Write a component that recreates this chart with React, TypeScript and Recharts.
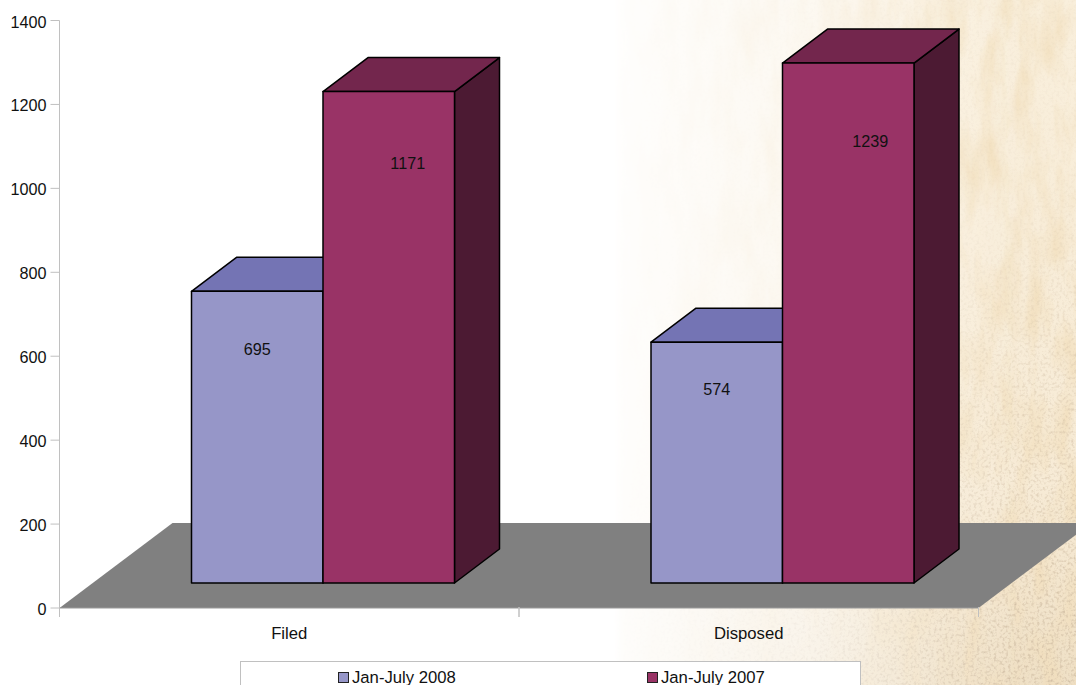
import { BarChart, Bar, XAxis, YAxis, Legend, LabelList, usePlotArea } from "recharts"

const categories = ["Filed", "Disposed"]
const values2008 = [695, 574]
const values2007 = [1171, 1239]
const yTicks = [0, 200, 400, 600, 800, 1000, 1200, 1400]

const chartData = categories.map((name, i) => ({
  name,
  "Jan-July 2008": values2008[i],
  "Jan-July 2007": values2007[i],
}))

const WIDTH = 1076
const HEIGHT = 685
const FONT = '"Liberation Sans", Arial, sans-serif'
const TEXT_SIZE = 16.2
const WIDE_TEXT_SIZE = 16.7

// the boxes sit mid-way on the floor, their depth runs up and to the right
const FRONT_DX = 34
const FRONT_DY = -25
const DEPTH_DX = 45
const DEPTH_DY = -34
const FLOOR_DX = 113
const FLOOR_DY = -85

// where each value label sits relative to the front face's top centre
const labels2008 = [
  { dx: 0, dy: 59 },
  { dx: 0, dy: 48 },
]
const labels2007 = [
  { dx: 19, dy: 72 },
  { dx: 22, dy: 79 },
]

function Floor() {
  const plot = usePlotArea()
  if (!plot) return null
  const left = plot.x
  const right = plot.x + plot.width
  const base = plot.y + plot.height
  const pts = [
    [left, base],
    [left + FLOOR_DX, base + FLOOR_DY],
    [right + FLOOR_DX, base + FLOOR_DY],
    [right, base],
  ]
  return (
    <g>
      <polygon points={pts.map((p) => p.join(",")).join(" ")} fill="#808080" />
      <line x1={left} y1={base} x2={right} y2={base} stroke="#9a9a9a" strokeWidth={1} />
    </g>
  )
}

function Box3D(props: any) {
  const { x, y, width, height, fill, topFill, sideFill } = props
  const fx = x + FRONT_DX
  const fy = y + FRONT_DY
  const fr = fx + width
  const fb = fy + height
  const top = `${fx},${fy} ${fx + DEPTH_DX},${fy + DEPTH_DY} ${fr + DEPTH_DX},${fy + DEPTH_DY} ${fr},${fy}`
  const side = `${fr},${fy} ${fr + DEPTH_DX},${fy + DEPTH_DY} ${fr + DEPTH_DX},${fb + DEPTH_DY} ${fr},${fb}`
  const edge = { stroke: "#000", strokeWidth: 1.5, strokeLinejoin: "round" as const }
  return (
    <g>
      <polygon points={side} fill={sideFill} {...edge} />
      <polygon points={top} fill={topFill} {...edge} />
      <rect x={fx} y={fy} width={width} height={height} fill={fill} {...edge} />
    </g>
  )
}

function valueLabel(nudges: { dx: number; dy: number }[]) {
  return (props: any) => {
    const { x, y, width, value, index } = props
    const n = nudges[index]
    return (
      <text
        x={x + FRONT_DX + width / 2 + n.dx}
        y={y + FRONT_DY + n.dy}
        dy={5}
        textAnchor="middle"
        fontFamily={FONT}
        fontSize={TEXT_SIZE}
        fill="#111"
      >
        {value}
      </text>
    )
  }
}

function CategoryTick(props: any) {
  const { x, y, payload, band } = props
  return (
    <g>
      <line x1={x - band / 2} y1={y - 9} x2={x - band / 2} y2={y + 1} stroke="#c0c0c0" />
      <line x1={x + band / 2} y1={y - 9} x2={x + band / 2} y2={y + 1} stroke="#c0c0c0" />
      <text x={x} y={y + 23} textAnchor="middle" fontFamily={FONT} fontSize={WIDE_TEXT_SIZE} fill="#111">
        {payload.value}
      </text>
    </g>
  )
}

function ValueTick(props: any) {
  const { x, y, payload } = props
  return (
    <text x={x} y={y + 7} textAnchor="end" fontFamily={FONT} fontSize={TEXT_SIZE} fill="#111">
      {payload.value}
    </text>
  )
}

function LegendBox({ payload }: any) {
  const starts = [338, 647]
  const ordered = [...(payload ?? [])].sort((a: any, b: any) => b.value.localeCompare(a.value))
  return (
    <div
      style={{
        position: "absolute",
        left: 240,
        top: 661,
        width: 621,
        height: 50,
        boxSizing: "border-box",
        background: "#fff",
        border: "1px solid #c0c0c0",
        fontFamily: FONT,
        fontSize: WIDE_TEXT_SIZE,
        color: "#111",
      }}
    >
      {ordered.map((entry: any, i: number) => (
        <div
          key={entry.value}
          style={{ position: "absolute", left: starts[i] - 241, top: 7, display: "flex", alignItems: "center", lineHeight: "18px" }}
        >
          <span
            style={{
              width: 9,
              height: 9,
              marginRight: 3,
              marginTop: -2,
              background: entry.color,
              border: "1px solid #222",
              display: "inline-block",
            }}
          />
          {entry.value}
        </div>
      ))}
    </div>
  )
}

// aged paper fading in from the white left side
function Paper() {
  return (
    <svg width={WIDTH} height={HEIGHT} style={{ position: "absolute", left: 0, top: 0 }}>
      <defs>
        <linearGradient id="fade" x1="0" y1="0" x2="1" y2="0">
          <stop offset="0.57" stopColor="#fff" stopOpacity={0} />
          <stop offset="0.58" stopColor="#fff" stopOpacity={0.08} />
          <stop offset="0.75" stopColor="#fff" stopOpacity={0.38} />
          <stop offset="0.88" stopColor="#fff" stopOpacity={0.85} />
          <stop offset="0.95" stopColor="#fff" stopOpacity={1} />
        </linearGradient>
        <mask id="fadeMask">
          <rect width={WIDTH} height={HEIGHT} fill="url(#fade)" />
        </mask>
        <linearGradient id="tone" x1="0" y1="0" x2="0" y2="1">
          <stop offset="0" stopColor="#f9efdc" />
          <stop offset="0.7" stopColor="#f7ebd6" />
          <stop offset="1" stopColor="#efe0c6" />
        </linearGradient>
        <filter id="streaks" x="0" y="0" width="100%" height="100%">
          <feTurbulence type="fractalNoise" baseFrequency="0.05 0.015" numOctaves={4} seed={11} />
          <feColorMatrix values="0 0 0 0 0.88  0 0 0 0 0.72  0 0 0 0 0.48  1.5 0 0 0 -0.55" />
        </filter>
        <filter id="grain" x="0" y="0" width="100%" height="100%">
          <feTurbulence type="fractalNoise" baseFrequency="0.35" numOctaves={2} seed={4} />
          <feColorMatrix values="0 0 0 0 0.62  0 0 0 0 0.5  0 0 0 0 0.36  2.2 0 0 0 -1.05" />
        </filter>
        <linearGradient id="lowerFade" x1="0" y1="0" x2="1" y2="1">
          <stop offset="0.62" stopColor="#fff" stopOpacity={0.15} />
          <stop offset="0.95" stopColor="#fff" stopOpacity={1} />
        </linearGradient>
        <mask id="grainMask">
          <rect width={WIDTH} height={HEIGHT} fill="url(#lowerFade)" />
        </mask>
      </defs>
      <g mask="url(#fadeMask)">
        <rect width={WIDTH} height={HEIGHT} fill="url(#tone)" />
        <rect width={WIDTH} height={HEIGHT} filter="url(#streaks)" />
        <g mask="url(#grainMask)">
          <rect width={WIDTH} height={HEIGHT} filter="url(#grain)" />
        </g>
      </g>
    </svg>
  )
}

export default function App() {
  const band = 919 / categories.length
  return (
    <div style={{ position: "absolute", left: 0, top: 0, width: WIDTH, height: HEIGHT, overflow: "hidden", background: "#fff" }}>
      <Paper />
      <BarChart
        width={WIDTH}
        height={HEIGHT}
        data={chartData}
        margin={{ top: 20.5, right: 97.5, bottom: 47, left: 0.5 }}
        barSize={131.5}
        barGap={0}
        style={{ position: "absolute", left: 0, top: 0 }}
      >
        <Floor />
        <YAxis
          width={59}
          domain={[0, 1400]}
          ticks={yTicks}
          interval={0}
          stroke="#c0c0c0"
          tickSize={9}
          tickMargin={4}
          tick={<ValueTick />}
        />
        <XAxis
          dataKey="name"
          height={30}
          stroke="#c0c0c0"
          axisLine={false}
          tickLine={false}
          interval={0}
          tick={<CategoryTick band={band} />}
        />
        <Legend
          content={<LegendBox />}
          wrapperStyle={{ position: "absolute", left: 0, top: 0, bottom: "auto", width: 0, height: 0 }}
        />
        <Bar
          dataKey="Jan-July 2008"
          fill="#9696c8"
          isAnimationActive={false}
          shape={(p: any) => <Box3D {...p} topFill="#7474b4" sideFill="#4b4b7a" />}
        >
          <LabelList content={valueLabel(labels2008)} />
        </Bar>
        <Bar
          dataKey="Jan-July 2007"
          fill="#993366"
          isAnimationActive={false}
          shape={(p: any) => <Box3D {...p} topFill="#73264d" sideFill="#4c1a33" />}
        >
          <LabelList content={valueLabel(labels2007)} />
        </Bar>
      </BarChart>
    </div>
  )
}
